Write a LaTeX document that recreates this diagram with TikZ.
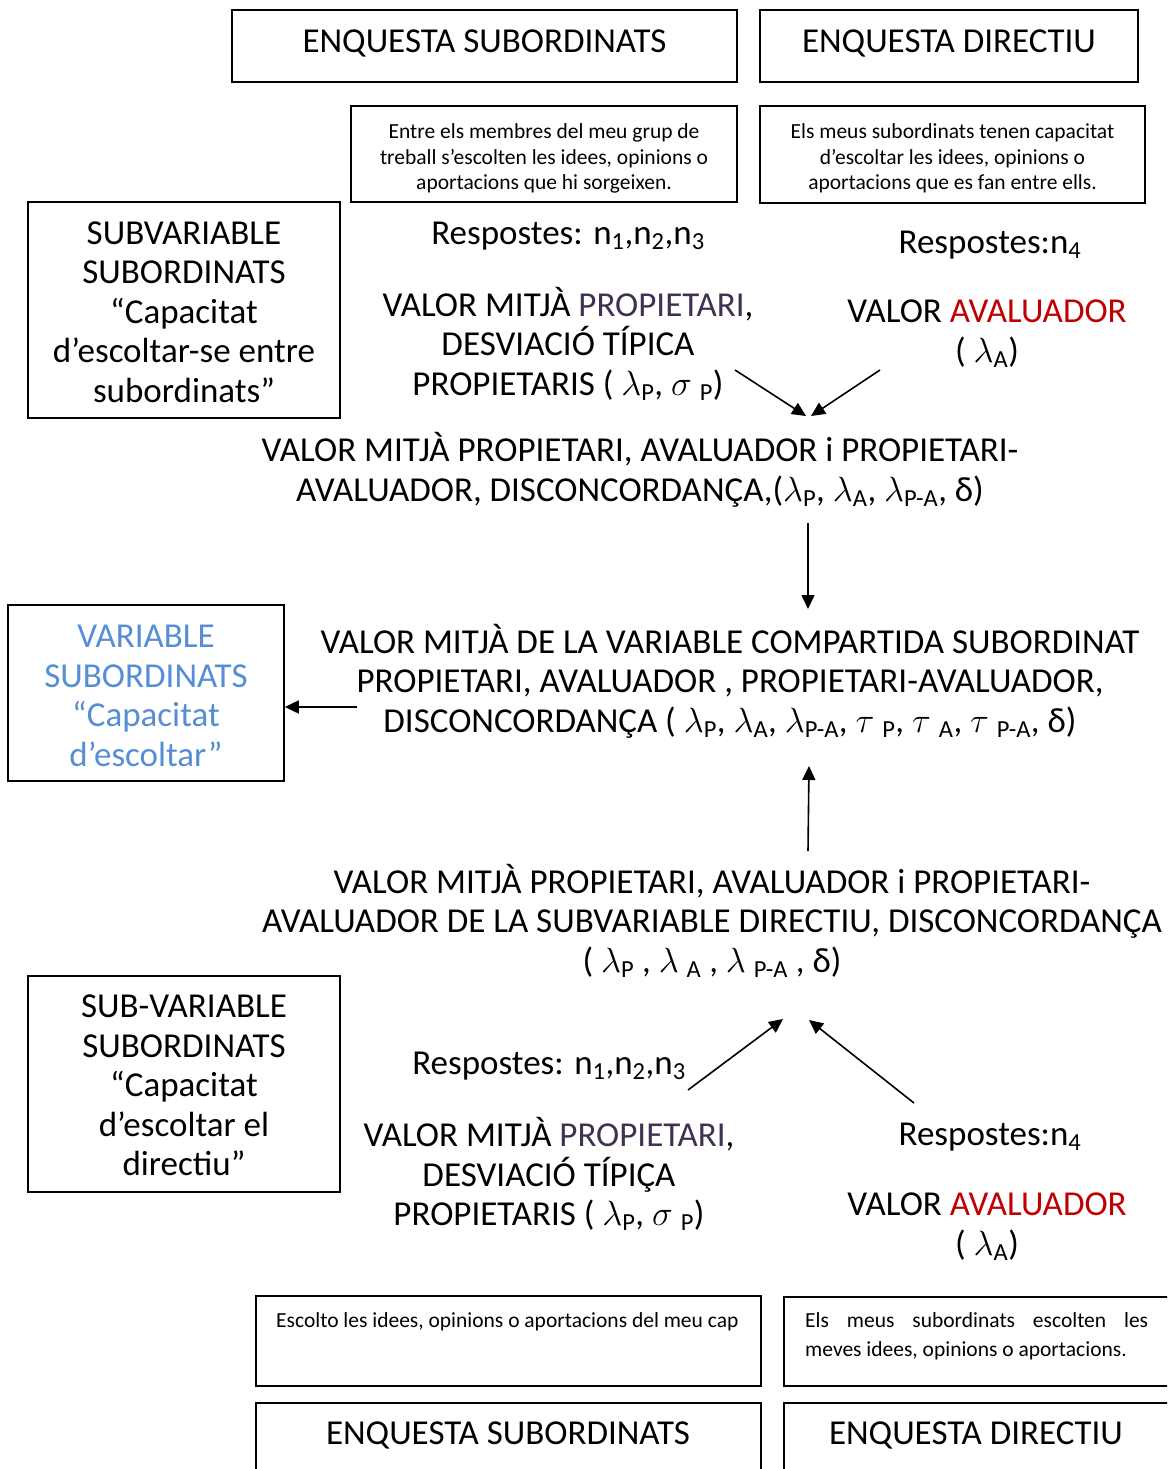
\RequirePackage{fix-cm}
\documentclass[tikz,border=0pt]{standalone}
\usepackage{fontspec}
\setmainfont{Carlito}
\usetikzlibrary{arrows.meta}
\definecolor{propcol}{HTML}{403152}
\definecolor{avalcol}{HTML}{C00000}
\definecolor{varcol}{HTML}{558ED5}
\newcommand{\lam}{$\lambda$}
\newcommand{\sub}[1]{\textsubscript{#1}}
\begin{document}
\begin{tikzpicture}[x=1pt,y=-1pt,
  big/.style={font=\fontsize{35}{39.5}\selectfont, align=center, inner sep=0pt},
  small/.style={font=\fontsize{21.5}{25.5}\selectfont, align=center, inner sep=0pt},
  frame/.style={draw, line width=1.6pt, inner sep=0pt},
  flow/.style={line width=1.6pt, -{Triangle[length=14pt,width=13pt]}}]
\useasboundingbox (0,0) rectangle (1167,1469);
\clip (0,0) rectangle (1167,1469);

% survey headers, top
\node[frame, minimum width=505, minimum height=72] (esTop) at (484.5,46) {};
\node[big] (esTopT) at (484.5,43) {ENQUESTA SUBORDINATS};
\node[frame, minimum width=378, minimum height=72] (edTop) at (949,46) {};
\node[big] (edTopT) at (949,43) {ENQUESTA DIRECTIU};

% questionnaire items, top
\node[frame, minimum width=386, minimum height=96] (q1) at (544,154) {};
\node[small] (q1t) at (544,158.5) {Entre els membres del meu grup de\\treball s’escolten les idees, opinions o\\aportacions que hi sorgeixen.};
\node[frame, minimum width=385, minimum height=97] (q2) at (952.5,154.5) {};
\node[small] (q2t) at (952.5,158.5) {Els meus subordinats tenen capacitat\\d'escoltar les idees, opinions o\\aportacions que es fan entre ells.};

% sub-variable box, top
\node[frame, minimum width=312, minimum height=216] (sv1) at (184,310) {};
\node[big] (sv1t) at (184,312) {SUBVARIABLE\\SUBORDINATS\\“Capacitat\\d’escoltar-se entre\\subordinats”};

\node[big] (resp1) at (568,236) {Respostes: n\sub{1},n\sub{2},n\sub{3}};
\node[big] (resp2) at (990,245) {Respostes:n\sub{4}};

\node[big] (vmp1) at (568,344) {VALOR MITJÀ \textcolor{propcol}{PROPIETARI},\\DESVIACIÓ TÍPICA\\PROPIETARIS ( \lam\sub{P}, $\sigma$ \sub{P})};
\node[big] (va1) at (987,334) {VALOR \textcolor{avalcol}{AVALUADOR}\\( \lam\sub{A})};

\coordinate (a1s) at (735,370);
\coordinate (a1e) at (806,416);
\coordinate (a2s) at (880,370);
\coordinate (a2e) at (811,416);
\draw[flow] (a1s) -- (a1e);
\draw[flow] (a2s) -- (a2e);

\node[big] (vm2) at (640,470) {VALOR MITJÀ PROPIETARI, AVALUADOR i PROPIETARI-\\AVALUADOR, DISCONCORDANÇA,(\lam\sub{P}, \lam\sub{A}, \lam\sub{P-A}, δ)};

\coordinate (a3s) at (808,523);
\coordinate (a3e) at (808,609);
\draw[flow] (a3s) -- (a3e);

% shared variable
\node[big] (vm3) at (730,681) {VALOR MITJÀ DE LA VARIABLE COMPARTIDA SUBORDINAT\\PROPIETARI, AVALUADOR , PROPIETARI-AVALUADOR,\\DISCONCORDANÇA ( \lam\sub{P}, \lam\sub{A}, \lam\sub{P-A}, $\tau$ \sub{P}, $\tau$ \sub{A}, $\tau$ \sub{P-A}, δ)};

\node[frame, minimum width=276, minimum height=176] (var) at (146,693) {};
\node[big, text=varcol] (vart) at (146,696) {VARIABLE\\SUBORDINATS\\“Capacitat\\d’escoltar”};

\coordinate (a4s) at (357,707);
\draw[flow] (a4s) -- (var.east |- a4s);

\coordinate (a5s) at (808,851);
\coordinate (a5e) at (809,766);
\draw[flow] (a5s) -- (a5e);

\node[big] (vm4) at (712,921) {VALOR MITJÀ PROPIETARI, AVALUADOR i PROPIETARI-\\AVALUADOR DE LA SUBVARIABLE DIRECTIU, DISCONCORDANÇA\\( \lam\sub{P} , \lam\ \sub{A} , \lam\ \sub{P-A} , δ)};

% sub-variable box, bottom
\node[frame, minimum width=312, minimum height=216] (sv2) at (184,1084) {};
\node[big] (sv2t) at (184,1085.5) {SUB-VARIABLE\\SUBORDINATS\\“Capacitat\\d’escoltar el\\directiu”};

\node[big] (resp3) at (549,1066) {Respostes: n\sub{1},n\sub{2},n\sub{3}};

\coordinate (a6s) at (688,1090);
\coordinate (a6e) at (783,1019);
\coordinate (a7s) at (914,1103);
\coordinate (a7e) at (809,1020);
\draw[flow] (a6s) -- (a6e);
\draw[flow] (a7s) -- (a7e);

\node[big] (resp4) at (990,1137) {Respostes:n\sub{4}};
\node[big] (vmp2) at (549,1174) {VALOR MITJÀ \textcolor{propcol}{PROPIETARI},\\DESVIACIÓ TÍPIÇA\\PROPIETARIS ( \lam\sub{P}, $\sigma$ \sub{P})};
\node[big] (va2) at (987,1227) {VALOR \textcolor{avalcol}{AVALUADOR}\\( \lam\sub{A})};

% questionnaire items, bottom
\draw[line width=1.6pt] (256,1296) rectangle (761,1386);
\node[small, anchor=north west, align=left] (q3t) at (276,1312) {Escolto les idees, opinions o aportacions del meu cap};
\draw[line width=1.6pt] (1180,1297) -- (784,1297) -- (784,1386) -- (1180,1386);
\node[small, anchor=north west, align=left, font=\fontsize{21.5}{29}\selectfont] (q4t) at (805,1312) {\makebox[343pt][s]{Els meus subordinats escolten les}\\meves idees, opinions o aportacions.};

% survey headers, bottom
\draw[line width=1.6pt] (256,1480) -- (256,1403) -- (761,1403) -- (761,1480);
\node[big] (esBot) at (508,1435) {ENQUESTA SUBORDINATS};
\draw[line width=1.6pt] (784,1480) -- (784,1403) -- (1180,1403);
\node[big] (edBot) at (976,1435) {ENQUESTA DIRECTIU};
\end{tikzpicture}
\end{document}
